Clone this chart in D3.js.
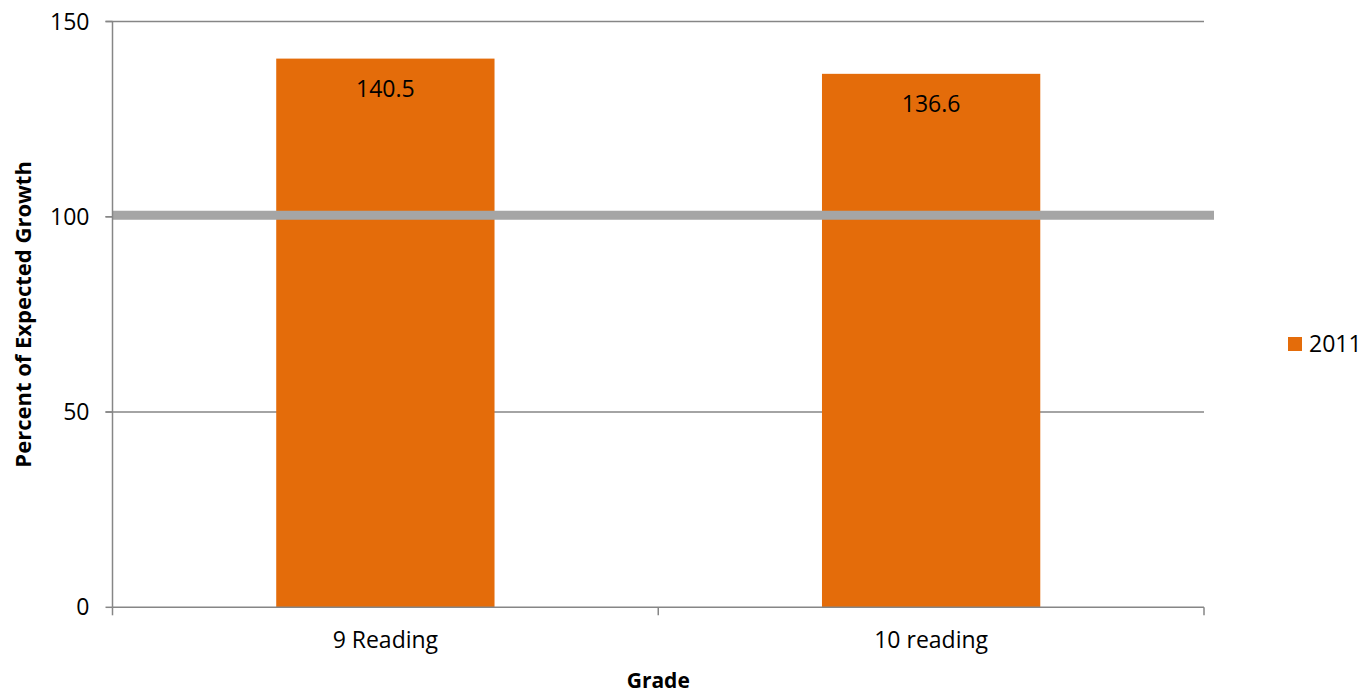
<!DOCTYPE html>
<html>
<head>
<meta charset="utf-8">
<script src="https://d3js.org/d3.v7.min.js"></script>
<style>
    body { margin: 0; background: #fff; }
    text { font-family: "Open Sans", sans-serif; fill: #000; }
</style>
</head>
<body>
<div id="chart"></div>
<script>
const categories = ["9 Reading", "10 reading"];
const values2011 = [140.5, 136.6];
const yTicks = [0, 50, 100, 150];
const seriesName = "2011";
const expectedGrowth = 100;

document.addEventListener("DOMContentLoaded", function() {
    const width = 1367, height = 694;
    const margin = { left: 112.5, right: 163, top: 21.5, bottom: 86.7 };
    const plotW = width - margin.left - margin.right;
    const plotH = height - margin.top - margin.bottom;

    const svg = d3.select("#chart").append("svg")
        .attr("width", width)
        .attr("height", height);

    const g = svg.append("g")
        .attr("transform", `translate(${margin.left},${margin.top})`);

    const x = d3.scaleBand()
        .domain(categories)
        .range([0, plotW])
        .paddingInner(0.6)
        .paddingOuter(0.3);

    const xEdges = d3.scaleLinear()
        .domain([0, categories.length])
        .range([0, plotW]);

    const y = d3.scaleLinear()
        .domain([0, 150])
        .range([plotH, 0]);

    // gridlines (with little ticks on the left)
    g.append("g")
        .selectAll("line")
        .data(yTicks.filter(d => d > 0))
        .enter().append("line")
        .attr("x1", -7)
        .attr("x2", plotW)
        .attr("y1", d => y(d))
        .attr("y2", d => y(d))
        .style("stroke", "#868686")
        .style("stroke-width", 1.5);

    // bars
    g.append("g")
        .selectAll("rect")
        .data(values2011)
        .enter().append("rect")
        .attr("x", (d, i) => x(categories[i]))
        .attr("y", d => y(d))
        .attr("width", x.bandwidth())
        .attr("height", d => plotH - y(d))
        .style("fill", "#E46C0A");

    // bar labels
    g.append("g")
        .selectAll("text")
        .data(values2011)
        .enter().append("text")
        .attr("x", (d, i) => x(categories[i]) + x.bandwidth() / 2)
        .attr("y", d => y(d) + 38)
        .attr("text-anchor", "middle")
        .style("font-size", "23px")
        .text(d => d.toFixed(1));

    // expected growth line
    g.append("line")
        .attr("x1", 0)
        .attr("x2", plotW + 10)
        .attr("y1", y(expectedGrowth) - 1.5)
        .attr("y2", y(expectedGrowth) - 1.5)
        .style("stroke", "#A5A5A5")
        .style("stroke-width", 9);

    // y axis
    g.append("line")
        .attr("x1", 0).attr("x2", 0)
        .attr("y1", 0).attr("y2", plotH)
        .style("stroke", "#868686")
        .style("stroke-width", 1.5);

    g.append("g")
        .selectAll("line")
        .data(yTicks)
        .enter().append("line")
        .attr("x1", -7).attr("x2", 0)
        .attr("y1", d => y(d)).attr("y2", d => y(d))
        .style("stroke", "#868686")
        .style("stroke-width", 1.5);

    g.append("g")
        .selectAll("text")
        .data(yTicks)
        .enter().append("text")
        .attr("x", -23)
        .attr("y", d => y(d))
        .attr("dy", "0.35em")
        .attr("text-anchor", "end")
        .style("font-size", "23px")
        .text(d => d);

    // x axis
    g.append("line")
        .attr("x1", 0).attr("x2", plotW)
        .attr("y1", plotH).attr("y2", plotH)
        .style("stroke", "#868686")
        .style("stroke-width", 1.5);

    g.append("g")
        .selectAll("line")
        .data(d3.range(categories.length + 1))
        .enter().append("line")
        .attr("x1", d => xEdges(d)).attr("x2", d => xEdges(d))
        .attr("y1", plotH).attr("y2", plotH + 8)
        .style("stroke", "#868686")
        .style("stroke-width", 1.5);

    g.append("g")
        .selectAll("text")
        .data(categories)
        .enter().append("text")
        .attr("x", d => x(d) + x.bandwidth() / 2)
        .attr("y", plotH + 41)
        .attr("text-anchor", "middle")
        .style("font-size", "23px")
        .text(d => d);

    // axis titles
    svg.append("text")
        .attr("x", margin.left + plotW / 2)
        .attr("y", 688)
        .attr("text-anchor", "middle")
        .style("font-size", "21px")
        .style("font-weight", "bold")
        .text("Grade");

    svg.append("text")
        .attr("transform", `translate(31,${margin.top + plotH / 2}) rotate(-90)`)
        .attr("text-anchor", "middle")
        .style("font-size", "22px")
        .style("font-weight", "bold")
        .text("Percent of Expected Growth");

    // legend
    const legend = svg.append("g")
        .attr("transform", "translate(1288,337)");

    legend.append("rect")
        .attr("width", 14)
        .attr("height", 14)
        .style("fill", "#E46C0A");

    legend.append("text")
        .attr("x", 21)
        .attr("y", 7)
        .attr("dy", "0.35em")
        .style("font-size", "23px")
        .text(seriesName);
});
</script>
</body>
</html>
